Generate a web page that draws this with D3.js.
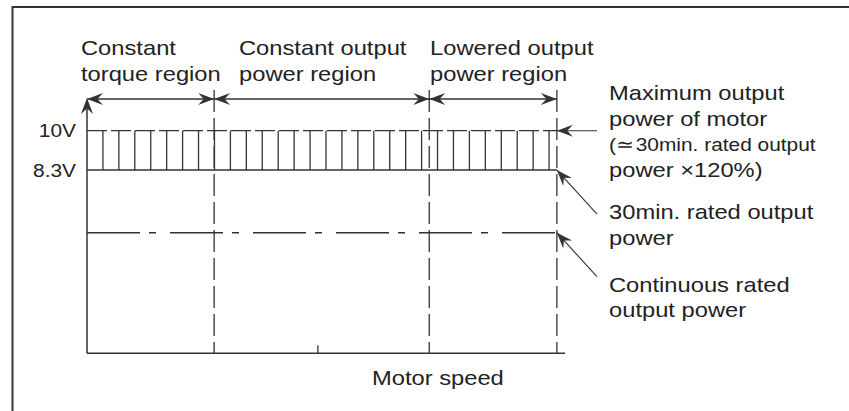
<!DOCTYPE html>
<html>
<head>
<meta charset="utf-8">
<script src="https://cdn.jsdelivr.net/npm/d3@7"></script>
<style>
  html, body { margin: 0; padding: 0; background: #fff; }
  svg { display: block; }
  text { font-family: "Liberation Sans", Arial, Helvetica, sans-serif; fill: #222; }
</style>
</head>
<body>
<div id="chart"></div>
<script>
// Output-power characteristic against motor speed (speed in % of the axis span)
const regionBounds = [0, 26.6, 71.6, 98.3];
const regionLabels = [
  ["Constant", "torque region"],
  ["Constant output", "power region"],
  ["Lowered output", "power region"]
];
const speedTick = [48.3];
const yTickValues = [10, 8.3];
const yTickLabels = ["10V", "8.3V"];
const maxOutputV = 10;        // maximum output power of motor
const ratedOutputV = 8.3;     // 30min. rated output power
const continuousV = 5.6;      // continuous rated output power
const hatchStep = 10 / 3;     // spacing of the hatch between 8.3V and 10V
const xLabel = "Motor speed";
const notes = [
  { lines: [["Maximum output", 21], ["power of motor", 21], ["(\u2243\u200A30min. rated output", 18.5], ["power \u00D7120%)", 21]], level: maxOutputV, kind: "flat" },
  { lines: [["30min. rated output", 21], ["power", 21]], level: ratedOutputV, kind: "diag" },
  { lines: [["Continuous rated", 21], ["output power", 21]], level: continuousV, kind: "diag" }
];

const W = 849, H = 411;
const ink = "#333";
const stretch = 1.13;

const svg = d3.select("#chart").append("svg")
  .attr("width", W).attr("height", H);

const x = d3.scaleLinear().domain([0, 100]).range([87, 565]);
const y = d3.scaleLinear().domain([0.4, 10]).range([353.3, 130.7]);

function label(g, str, px, py, size, anchor) {
  return g.append("text")
    .attr("transform", `translate(${px},${py}) scale(${stretch},1)`)
    .attr("font-size", size)
    .attr("text-anchor", anchor || "start")
    .text(str);
}

// filled barbed arrowhead with its tip at (px,py), pointing along angle (radians)
function arrowHead(g, px, py, angle, len = 16, half = 6) {
  g.append("path")
    .attr("d", `M0,0 L${-len},${-half} L${-len * 0.65},0 L${-len},${half} Z`)
    .attr("transform", `translate(${px},${py}) rotate(${angle * 180 / Math.PI})`)
    .attr("fill", ink);
}

// outer frame (top and left edges)
svg.append("path")
  .attr("d", `M12.5,${H} L12.5,7 L${W},7`)
  .attr("fill", "none").attr("stroke", ink).attr("stroke-width", 2);

const g = svg.append("g");
const x0 = x(regionBounds[0]);
const xEnd = x(regionBounds[regionBounds.length - 1]);
const arrowY = 99;

// hatch between 30min. rated level and maximum output level
const hatch = d3.range(hatchStep, regionBounds[3] - 1, hatchStep);
g.selectAll(".hatch").data(hatch).join("line")
  .attr("class", "hatch")
  .attr("x1", d => x(d)).attr("x2", d => x(d))
  .attr("y1", y(maxOutputV)).attr("y2", y(ratedOutputV))
  .attr("stroke", ink).attr("stroke-width", 1.3);

// maximum output level (dashed)
g.append("line")
  .attr("x1", x0).attr("x2", xEnd)
  .attr("y1", y(maxOutputV)).attr("y2", y(maxOutputV))
  .attr("stroke", ink).attr("stroke-width", 1.3)
  .attr("stroke-dasharray", "20,4");

// 30min. rated level (solid)
g.append("line")
  .attr("x1", x0).attr("x2", xEnd)
  .attr("y1", y(ratedOutputV)).attr("y2", y(ratedOutputV))
  .attr("stroke", ink).attr("stroke-width", 1.5);

// continuous rated level (dash-dot)
g.append("line")
  .attr("x1", x0).attr("x2", xEnd)
  .attr("y1", y(continuousV)).attr("y2", y(continuousV))
  .attr("stroke", ink).attr("stroke-width", 1.3)
  .attr("stroke-dasharray", "53,9,7,14");

// region boundaries (dashed verticals)
g.selectAll(".bound").data(regionBounds.slice(1)).join("line")
  .attr("class", "bound")
  .attr("x1", d => x(d)).attr("x2", d => x(d))
  .attr("y1", 90).attr("y2", y.range()[0])
  .attr("stroke", ink).attr("stroke-width", 1.3)
  .attr("stroke-dasharray", "22,6");

// x axis
g.append("line")
  .attr("x1", x0).attr("x2", x(100))
  .attr("y1", y.range()[0]).attr("y2", y.range()[0])
  .attr("stroke", ink).attr("stroke-width", 1.5);
g.selectAll(".xtick").data(speedTick).join("line")
  .attr("class", "xtick")
  .attr("x1", d => x(d)).attr("x2", d => x(d))
  .attr("y1", y.range()[0] - 8).attr("y2", y.range()[0])
  .attr("stroke", ink).attr("stroke-width", 1.3);

// y axis with arrow
g.append("line")
  .attr("x1", x0).attr("x2", x0)
  .attr("y1", y.range()[0]).attr("y2", arrowY + 2)
  .attr("stroke", ink).attr("stroke-width", 1.5);
arrowHead(g, x0, arrowY - 1, -Math.PI / 2);

// y tick labels
yTickValues.forEach((v, i) => {
  label(g, yTickLabels[i], 76, y(v) + 6.5, 18.5, "end");
});

// region span arrows
g.append("line")
  .attr("x1", x0).attr("x2", xEnd)
  .attr("y1", arrowY).attr("y2", arrowY)
  .attr("stroke", ink).attr("stroke-width", 1.3);
for (let i = 0; i < regionLabels.length; i++) {
  arrowHead(g, x(regionBounds[i]), arrowY, Math.PI);
  arrowHead(g, x(regionBounds[i + 1]), arrowY, 0);
}

// region labels
const regionTextX = [81, 239, 430];
regionLabels.forEach((lines, i) => {
  lines.forEach((s, j) => label(g, s, regionTextX[i], 55 + j * 26.3, 21));
});

// x label
label(g, xLabel, 372, 385, 21);

// right-hand annotations
const noteTop = [100, 219.3, 291.7];
const noteLead = 25.5;
const tailX = 597;
notes.forEach((n, i) => {
  n.lines.forEach(([s, size], j) => label(g, s, 609, noteTop[i] + j * noteLead, size));
  const tipX = xEnd, tipY = y(n.level);
  let tx, ty;
  if (n.kind === "flat") { tx = tailX; ty = tipY; }
  else { tx = tailX; ty = tipY + 44; }
  g.append("line")
    .attr("x1", tx).attr("y1", ty).attr("x2", tipX).attr("y2", tipY)
    .attr("stroke", ink).attr("stroke-width", 1.1);
  arrowHead(g, tipX, tipY, Math.atan2(tipY - ty, tipX - tx));
});
</script>
</body>
</html>
